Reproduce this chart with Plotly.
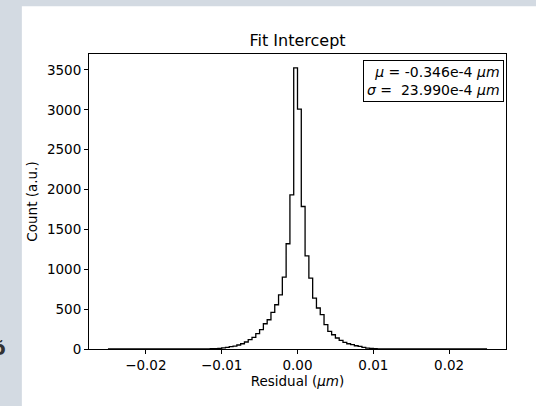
import numpy as np
import plotly.graph_objects as go

# histogram of residuals, 100 bins over [-0.025, 0.025]
BIN_RANGE = (-0.025, 0.025)
N_BINS = 100
COUNTS = (
    [0] * 26
    + [1, 3, 5, 9, 14, 20, 29, 37, 50, 66, 88, 117, 146, 192, 242, 317,
       367, 459, 555, 680, 902, 1320, 1934, 3525,
       3008, 1787, 1169, 889, 639, 514, 430, 305, 221, 179, 138, 108, 83,
       66, 54, 41, 33, 20, 12, 7, 4, 2, 0, 0, 1]
    + [0] * 25
)

X_TICKS = [-0.02, -0.01, 0.0, 0.01, 0.02]
X_TICK_TEXT = ["\u22120.02", "\u22120.01", "0.00", "0.01", "0.02"]
Y_TICKS = [0, 500, 1000, 1500, 2000, 2500, 3000, 3500]

TITLE = "Fit Intercept"
STATS = ["<i>\u03bc</i> = -0.346e-4 <i>\u03bcm</i>",
         "<i>\u03c3</i> =\u00a0\u00a023.990e-4 <i>\u03bcm</i>"]

FONT = "DejaVu Sans"

edges = np.linspace(BIN_RANGE[0], BIN_RANGE[1], N_BINS + 1)
step_y = COUNTS + [COUNTS[-1]]

fig = go.Figure()
fig.add_trace(go.Scatter(
    x=edges, y=step_y, mode="lines", line_shape="hv",
    line=dict(color="black", width=1.3), cliponaxis=False,
    showlegend=False, hoverinfo="skip",
))

# white figure panel on the grey page
fig.add_shape(type="rect", xref="paper", yref="paper",
              x0=-0.161, x1=1.1, y0=-0.25, y1=1.162,
              fillcolor="white", line_width=0, layer="below")

# clipped glyph at the far left edge of the page (cut off in the source too)
fig.add_annotation(text="<b>õ</b>", xref="paper", yref="paper",
                   x=-0.216, y=0.004, xanchor="center", yanchor="middle",
                   showarrow=False,
                   font=dict(family=FONT, size=20, color="#333333"))

fig.add_annotation(
    text="<br>".join(STATS), xref="paper", yref="paper",
    x=0.995, y=0.98, xanchor="right", yanchor="top", align="right",
    showarrow=False, bordercolor="black", borderwidth=1, borderpad=3,
    bgcolor="white", font=dict(family=FONT, size=14, color="black"),
)

axis_common = dict(
    showline=True, linecolor="black", linewidth=1, mirror=True,
    ticks="outside", ticklen=4, tickwidth=1, tickcolor="black",
    showgrid=False, zeroline=False,
    tickfont=dict(family=FONT, size=13.5, color="black"),
)

fig.update_xaxes(range=[-0.0275, 0.0275], tickvals=X_TICKS, ticktext=X_TICK_TEXT,
                 title=dict(text="Residual (<i>\u03bcm</i>)", standoff=4,
                            font=dict(family=FONT, size=13.5, color="black")),
                 **axis_common)
fig.update_yaxes(range=[0, 3700], tickvals=Y_TICKS,
                 title=dict(text="Count (a.u.)", standoff=6,
                            font=dict(family=FONT, size=13.5, color="black")),
                 **axis_common)

fig.update_layout(
    width=536, height=406,
    margin=dict(l=89, r=30, t=54, b=57),
    paper_bgcolor="#d3dae2", plot_bgcolor="white",
    title=dict(text=TITLE, x=0.5, xref="paper", xanchor="center",
               y=1 - 40 / 406, yref="container", yanchor="middle",
               font=dict(family=FONT, size=16, color="black")),
)

fig.write_html("out.html", config={"displayModeBar": False},
               post_script="document.body.style.margin='0px';")
